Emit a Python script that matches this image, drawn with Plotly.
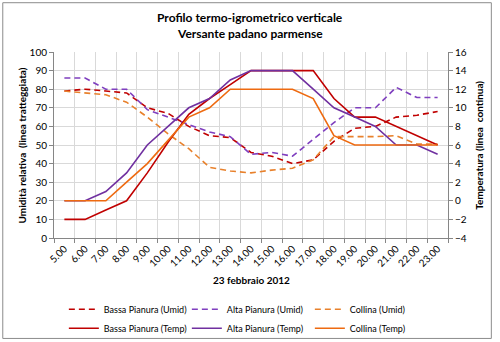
import plotly.graph_objects as go

# Hourly readings, 23 February 2012
ore = ["5.00", "6.00", "7.00", "8.00", "9.00", "10.00", "11.00", "12.00", "13.00", "14.00",
       "15.00", "16.00", "17.00", "18.00", "19.00", "20.00", "21.00", "22.00", "23.00"]

# Relative humidity (%)
umid_bassa = [79, 80, 79, 78, 70, 67, 60, 55, 54, 46, 44, 40, 42, 52, 59, 60, 65, 66, 68]
umid_alta = [86, 86, 80, 80, 69, 65, 61, 57, 54.5, 45, 46, 44, 53, 62, 70, 70, 81, 75.5, 75.5]
umid_collina = [79, 78, 77, 73, 65, 56, 48, 38, 36, 35, 36.5, 37.5, 42, 54.5, 54.5, 54.5, 55, 50.5, 50.5]

# Temperature (°C)
temp_bassa = [-2, -2, -1, 0, 3, 6.3, 9.3, 11, 12.5, 14, 14, 14, 14, 11, 9, 9, 8, 7, 6]
temp_alta = [0, 0, 1, 3, 6, 8, 10, 11, 13, 14, 14, 14, 12, 10, 9, 8, 6, 6, 5]
temp_collina = [0, 0, 0, 2, 4, 6.5, 9, 10, 12, 12, 12, 12, 11, 7, 6, 6, 6, 6, 6]

C_BASSA = "#C00000"
C_ALTA = "#7030A0"
C_COLLINA = "#EE6A10"
FONT = "Lato, Calibri, sans-serif"
DASH = "6px,4px"

fig = go.Figure()

series = [
    ("Bassa Pianura (Umid)", umid_bassa, C_BASSA, DASH, "y"),
    ("Alta Pianura (Umid)", umid_alta, "#7F3FBF", DASH, "y"),
    ("Collina (Umid)", umid_collina, "#E8812C", DASH, "y"),
    ("Bassa Pianura (Temp)", temp_bassa, C_BASSA, "solid", "y2"),
    ("Alta Pianura (Temp)", temp_alta, C_ALTA, "solid", "y2"),
    ("Collina (Temp)", temp_collina, C_COLLINA, "solid", "y2"),
]
for name, vals, col, dash, ax in series:
    fig.add_trace(go.Scatter(
        x=ore, y=vals, name=name, mode="lines", yaxis=ax,
        line=dict(color=col, width=1.6, dash=dash),
    ))

axis_col = "#868686"
grid_col = "#D9D9D9"

fig.update_layout(
    width=500, height=342,
    margin=dict(l=54, r=52, t=52, b=104, autoexpand=False),
    paper_bgcolor="white", plot_bgcolor="white",
    font=dict(family=FONT, size=10, color="#000000"),
    showlegend=True,
    xaxis=dict(
        type="category", range=[-0.5, 18.5], tickson="boundaries",
        showgrid=True, gridcolor=grid_col, gridwidth=1,
        showline=True, linecolor=axis_col, linewidth=1,
        ticks="outside", ticklen=4, tickcolor=axis_col,
        tickangle=-45, tickfont=dict(size=10),
        zeroline=False, automargin=False,
    ),
    yaxis=dict(
        range=[0, 100], dtick=10,
        showgrid=True, gridcolor=grid_col, gridwidth=1,
        showline=True, linecolor=axis_col, linewidth=1,
        ticks="outside", ticklen=4, tickcolor=axis_col,
        tickfont=dict(size=10), zeroline=False, automargin=False,
    ),
    yaxis2=dict(
        range=[-4, 16], dtick=2, overlaying="y", side="right",
        showgrid=False,
        showline=True, linecolor=axis_col, linewidth=1,
        ticks="outside", ticklen=4, tickcolor=axis_col,
        tickfont=dict(size=10), zeroline=False, automargin=False,
    ),
    legend=dict(
        orientation="h", x=0.025, xanchor="left", y=-0.305, yanchor="top",
        entrywidth=78, entrywidthmode="pixels",
        font=dict(family=FONT, size=9), tracegroupgap=0,
        bgcolor="rgba(0,0,0,0)",
    ),
)

# Title (two lines)
for txt, yp in [("Profilo termo-igrometrico verticale", 1.183),
                ("Versante padano parmense", 1.097)]:
    fig.add_annotation(
        text=f"<b>{txt}</b>", xref="paper", yref="paper", x=0.497, y=yp,
        xanchor="center", yanchor="middle", showarrow=False,
        font=dict(family=FONT, size=12),
    )

# Axis titles
fig.add_annotation(
    text="<b>Umidità relativa  (linea tratteggiata)</b>", textangle=-90,
    xref="paper", yref="paper", x=-0.08, y=0.5, xanchor="center", yanchor="middle",
    showarrow=False, font=dict(family=FONT, size=10),
)
fig.add_annotation(
    text="<b>Temperatura (linea  continua)</b>", textangle=-90,
    xref="paper", yref="paper", x=1.078, y=0.5, xanchor="center", yanchor="middle",
    showarrow=False, font=dict(family=FONT, size=10),
)
fig.add_annotation(
    text="<b>23 febbraio 2012</b>",
    xref="paper", yref="paper", x=0.5, y=-0.226, xanchor="center", yanchor="middle",
    showarrow=False, font=dict(family=FONT, size=10),
)

# Chart frame
fig.add_shape(
    type="rect", xref="paper", yref="paper",
    x0=-0.13, x1=1.11, y0=-0.54, y1=1.265,
    line=dict(color="#8C8C8C", width=1), fillcolor="rgba(0,0,0,0)", layer="above",
)

fig.write_html("out.html")
